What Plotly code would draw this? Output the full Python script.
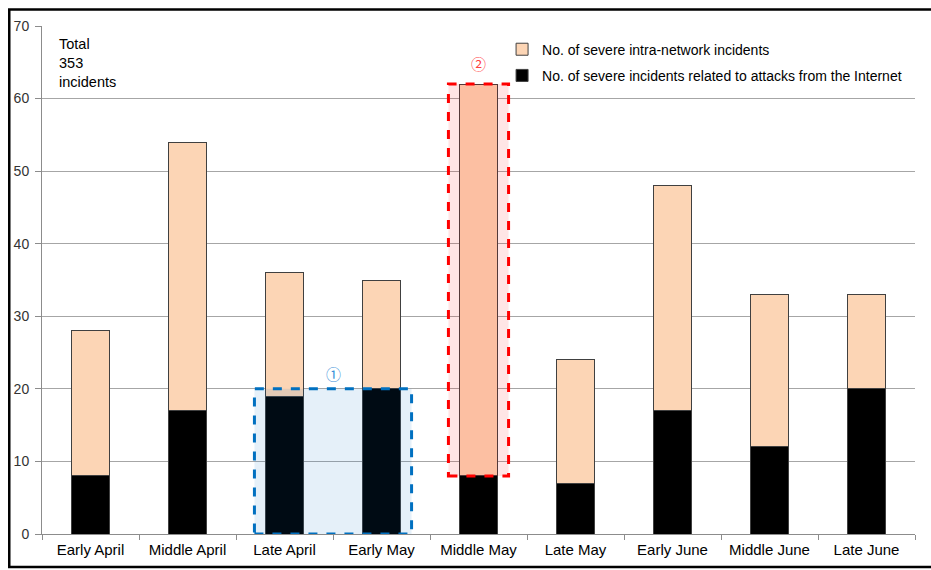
import plotly.graph_objects as go

# Ten-day periods, April to June
periods = ["Early April", "Middle April", "Late April", "Early May", "Middle May",
           "Late May", "Early June", "Middle June", "Late June"]
# Severe incidents related to attacks from the Internet
internet = [8, 17, 19, 20, 8, 7, 17, 12, 20]
# Severe intra-network incidents
intra = [20, 37, 17, 15, 54, 17, 31, 21, 13]
y_ticks = [0, 10, 20, 30, 40, 50, 60, 70]

totals = [a + b for a, b in zip(internet, intra)]
grand_total = sum(totals)

FONT = "Liberation Sans, Arial, sans-serif"
CIRCLE_FONT = "Noto Sans CJK JP, DejaVu Sans, sans-serif"

fig = go.Figure()
fig.add_trace(go.Bar(
    x=periods, y=internet, name="No. of severe incidents related to attacks from the Internet",
    marker=dict(color="#000000", line=dict(color="#404040", width=1)),
    width=0.4, legendgroup="b", legendrank=2,
))
fig.add_trace(go.Bar(
    x=periods, y=intra, name="No. of severe intra-network incidents",
    marker=dict(color="#fcd5b5", line=dict(color="#404040", width=1)),
    width=0.4, legendgroup="a", legendrank=1,
))

# Highlight 1: late April / early May Internet-attack bars
i1, i2 = periods.index("Late April"), periods.index("Early May")
pad = 0.31
fig.add_shape(type="rect", xref="x", yref="y",
              x0=i1 - pad, x1=i2 + pad, y0=0, y1=max(internet[i1], internet[i2]),
              fillcolor="rgba(0,112,192,0.10)",
              line=dict(color="#0070c0", width=3, dash="dash"), layer="above")
fig.add_annotation(x=(i1 + i2) / 2, y=max(internet[i1], internet[i2]), yanchor="bottom",
                   yshift=3, text="①", showarrow=False,
                   font=dict(family=CIRCLE_FONT, size=15, color="#3a8fd8"))

# Highlight 2: middle May intra-network bar
m = periods.index("Middle May")
fig.add_shape(type="rect", xref="x", yref="y",
              x0=m - pad, x1=m + pad, y0=internet[m], y1=totals[m],
              fillcolor="rgba(255,0,0,0.10)",
              line=dict(color="#ff0000", width=3, dash="dash"), layer="above")
fig.add_annotation(x=m, y=totals[m], yanchor="bottom", yshift=8,
                   text="②", showarrow=False,
                   font=dict(family=CIRCLE_FONT, size=15, color="#ff4040"))

# Total count label
fig.add_annotation(xref="paper", yref="paper", x=0.017, y=0.985,
                   xanchor="left", yanchor="top", align="left", showarrow=False,
                   text=f"Total<br>{grand_total}<br>incidents",
                   font=dict(family=FONT, size=14.5, color="#000000"))

# Outer frame
fig.add_shape(type="rect", xref="paper", yref="paper",
              x0=-0.0375, x1=1.05, y0=-0.065, y1=1.0325,
              line=dict(color="#000000", width=2.5), fillcolor="rgba(0,0,0,0)")

fig.update_layout(
    width=931, height=570,
    margin=dict(l=42, r=16, t=26, b=36),
    barmode="stack",
    plot_bgcolor="#ffffff", paper_bgcolor="#ffffff",
    font=dict(family=FONT, size=14, color="#000000"),
    showlegend=True,
    legend=dict(x=0.527, y=0.985, xanchor="left", yanchor="top",
                traceorder="grouped", tracegroupgap=5,
                font=dict(family=FONT, size=14, color="#000000"),
                bgcolor="rgba(0,0,0,0)", itemwidth=30),
    xaxis=dict(
        showline=True, linecolor="#8c8c8c", linewidth=1,
        ticks="outside", tickson="boundaries", ticklen=5, tickcolor="#8c8c8c",
        tickfont=dict(family=FONT, size=15, color="#000000"),
        ticklabelstandoff=2,
        showgrid=False,
    ),
    yaxis=dict(
        range=[0, 70], tickvals=y_ticks,
        showline=True, linecolor="#8c8c8c", linewidth=1,
        ticks="outside", ticklen=6, tickcolor="#8c8c8c",
        ticklabelstandoff=3,
        showgrid=True, gridcolor="#a6a6a6", gridwidth=1,
        zeroline=False,
        tickfont=dict(family=FONT, size=14, color="#333333"),
    ),
)

fig.write_html("out.html")
